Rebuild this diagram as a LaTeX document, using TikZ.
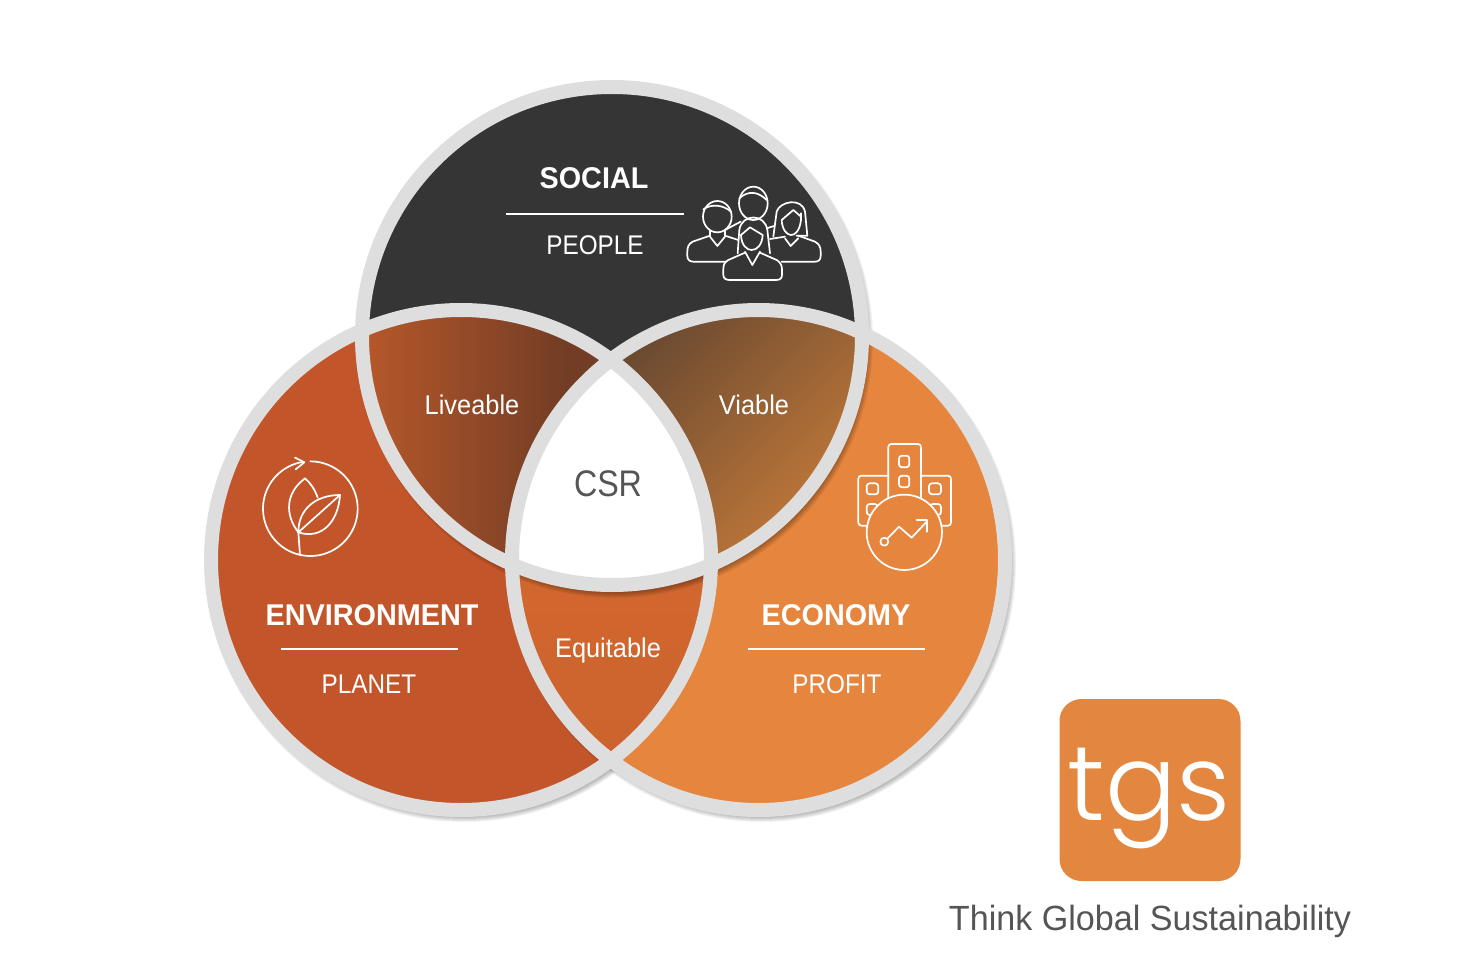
\documentclass[tikz,border=0pt]{standalone}
\usepackage{fontspec}
\setmainfont{Liberation Sans}
\newfontfamily\logofont{Poppins Light}
\newfontfamily\fcaps[FakeStretch=0.90]{Liberation Sans}
\newfontfamily\flow[FakeStretch=0.94]{Liberation Sans}
\newfontfamily\fhead[FakeStretch=0.96]{Liberation Sans Bold}
\newfontfamily\fcsr[FakeStretch=0.87]{Liberation Sans}
\newfontfamily\fthink[FakeStretch=0.975]{Liberation Sans}
\definecolor{band}{HTML}{DEDEDE}
\definecolor{dark}{HTML}{353535}
\definecolor{envc}{HTML}{C2562A}
\definecolor{ecoc}{HTML}{E5853E}
\definecolor{logoc}{HTML}{E28640}
\definecolor{greyt}{HTML}{555555}
\definecolor{livl}{HTML}{B5572A}
\definecolor{livr}{HTML}{733D25}
\definecolor{vibl}{HTML}{6B4A31}
\definecolor{vibr}{HTML}{C67B39}
\definecolor{equa}{HTML}{D2682F}
\definecolor{equb}{HTML}{CC622D}
\tikzset{
  lblcaps/.style={text=white,font=\fcaps\fontsize{27}{27}\selectfont,inner sep=0pt,anchor=center},
  lbllow/.style={text=white,font=\flow\fontsize{27}{27}\selectfont,inner sep=0pt,anchor=center},
  headt/.style={text=white,font=\fhead\fontsize{30}{30}\selectfont,inner sep=0pt,anchor=center},
  rulew/.style={draw=white,line width=1.6pt},
  ico/.style={draw=white,line width=1.7pt,line join=round,line cap=round},
  ringb/.style={draw=band,line width=14pt,fill=none},
  discL/.style={x radius=250,y radius=250},
  discR/.style={x radius=246.5,y radius=250},
  discT/.style={x radius=250,y radius=249},
}
\newcommand{\softshadow}[2]{%
  \foreach \k in {0,1,...,8}{
    \fill[black,opacity=0.05] ([shift={(3,4)}]#1) ellipse[x radius=#2+\k,y radius=250+\k];
  }}
\begin{document}
\begin{tikzpicture}[x=1pt,y=-1pt]
\useasboundingbox (0,0) rectangle (1476,960);
\fill[white] (0,0) rectangle (1476,960);
\coordinate (L) at (461,560);
\coordinate (R) at (758.5,560);
\coordinate (T) at (612,336);
% left disc with its shadow
\softshadow{L}{250}
\fill[envc] (L) ellipse[discL];
% right disc with its shadow
\softshadow{R}{246.5}
\fill[ecoc] (R) ellipse[discR];
% equitable
\begin{scope}
  \clip (L) ellipse[discL];
  \clip (R) ellipse[discR];
  \shade[top color=equa,bottom color=equb] (500,560) rectangle (720,770);
\end{scope}
% shadow and disc of the upper circle
\softshadow{T}{250}
\fill[dark] (T) ellipse[discT];
% liveable
\begin{scope}
  \clip (T) ellipse[discT];
  \clip (L) ellipse[discL];
  \fill[livr] (350,300) rectangle (630,600);
  \shade[left color=livl,right color=livr] (368,300) rectangle (565,600);
\end{scope}
% viable
\begin{scope}
  \clip (T) ellipse[discT];
  \clip (R) ellipse[discR];
  \shade[left color=vibl,right color=vibr,shading angle=45] (600,310) rectangle (860,570);
\end{scope}
% centre
\begin{scope}
  \clip (T) ellipse[discT];
  \clip (L) ellipse[discL];
  \clip (R) ellipse[discR];
  \fill[white] (490,340) rectangle (730,600);
\end{scope}
% rings
\draw[ringb] (L) ellipse[discL];
\draw[ringb] (R) ellipse[discR];
\draw[ringb] (T) ellipse[discT];
% rules
\coordinate (r1a) at (506,214); \coordinate (r1b) at (684,214);
\coordinate (r2a) at (281,649); \coordinate (r2b) at (458,649);
\coordinate (r3a) at (748,649); \coordinate (r3b) at (925,649);
\draw[rulew] (r1a) -- (r1b);
\draw[rulew] (r2a) -- (r2b);
\draw[rulew] (r3a) -- (r3b);
% text
\node[headt] (social) at (594,178) {SOCIAL};
\node[lblcaps] (people) at (595,245) {PEOPLE};
\node[headt] (env) at (372,615) {ENVIRONMENT};
\node[lblcaps] (planet) at (369,684) {PLANET};
\node[headt] (eco) at (836,615) {ECONOMY};
\node[lblcaps] (profit) at (837,684) {PROFIT};
\node[lbllow] (live) at (472,405) {Liveable};
\node[lbllow] (viab) at (754,405) {Viable};
\node[lbllow] (equi) at (608,651) {Equitable};
\node[text=greyt,inner sep=0pt,anchor=center,font=\fcsr\fontsize{37}{37}\selectfont] (csr) at (608,484) {CSR};
% people icon (coordinates of the 3x crop)
\begin{scope}[shift={(670,170)},x=0.33333pt,y=-0.33333pt]
  % back man
  \draw[ico] (250,100) ellipse[x radius=43,y radius=50];
  \draw[ico] (208,85) .. controls (235,60) and (265,65) .. (290,90);
  % left man
  \draw[ico] (142,140) ellipse[x radius=43,y radius=47];
  \draw[ico] (100,118) .. controls (125,100) and (160,105) .. (183,125);
  \draw[ico] (120,183) -- (120,200) -- (142,228) -- (165,200) -- (165,183);
  \draw[ico] (120,197) -- (68,215) .. controls (55,222) and (52,232) .. (52,245) -- (52,258) .. controls (52,270) and (60,275) .. (70,275) -- (170,275);
  \draw[ico] (165,197) -- (205,210);
  \draw[ico] (165,180) -- (212,155);
  % right woman
  \draw[ico] (310,200) -- (320,125) .. controls (328,95) and (395,80) .. (405,125) -- (412,197) -- (380,197);
  \draw[ico] (335,150) .. controls (338,205) and (385,215) .. (393,150) -- (393,130);
  \draw[ico] (335,150) -- (370,120) -- (393,140);
  \draw[ico] (345,205) -- (362,228) -- (385,205);
  \draw[ico] (385,197) -- (435,215) .. controls (448,222) and (452,232) .. (452,245) -- (452,258) .. controls (452,270) and (445,275) .. (435,275) -- (335,275);
  \draw[ico] (300,207) -- (345,200);
  \draw[ico] (290,175) -- (312,168);
  % front woman
  \draw[ico] (203,250) -- (208,180) .. controls (215,130) and (285,130) .. (292,180) -- (300,250);
  \draw[ico] (213,195) -- (240,172) -- (278,195);
  \draw[ico] (213,195) .. controls (215,255) and (275,255) .. (278,195);
  \draw[ico] (225,245) -- (247,285) -- (270,245);
  \draw[ico] (225,248) -- (175,270) .. controls (163,276) and (160,285) .. (160,298) -- (160,315) .. controls (160,325) and (168,330) .. (178,330) -- (318,330) .. controls (330,330) and (336,325) .. (336,315) -- (336,298) .. controls (336,285) and (330,276) .. (320,270) -- (270,248);
\end{scope}
% leaf icon
\begin{scope}[shift={(245,445)},x=0.33333pt,y=-0.33333pt]
  \draw[ico] plot[domain=-90:262,samples=90] ({196+142*cos(\x)},{191+142*sin(\x)});
  \draw[ico] (150,38) -- (178,52) -- (152,73);
  \draw[ico] (160,262) .. controls (120,210) and (120,145) .. (180,100) .. controls (198,115) and (210,135) .. (218,158);
  \draw[ico] (160,262) .. controls (160,190) and (215,150) .. (285,150) .. controls (280,230) and (230,285) .. (160,262);
  \draw[ico] (160,262) -- (285,150);
  \draw[ico] (160,262) -- (165,330);
\end{scope}
% economy icon
\begin{scope}[shift={(845,435)},x=0.33333pt,y=-0.33333pt]
  \draw[ico,rounded corners=3pt] (130,190) -- (130,27) -- (228,27) -- (228,190);
  \draw[ico,rounded corners=3pt] (130,122) -- (40,122) -- (40,272) -- (65,272);
  \draw[ico,rounded corners=3pt] (228,122) -- (318,122) -- (318,272) -- (290,272);
  \draw[ico,rounded corners=3pt] (162,62) rectangle (193,97);
  \draw[ico,rounded corners=3pt] (162,122) rectangle (193,157);
  \draw[ico,rounded corners=3pt] (65,145) rectangle (100,178);
  \draw[ico,rounded corners=3pt] (252,145) rectangle (288,178);
  \draw[ico,rounded corners=3pt] (65,207) rectangle (98,240);
  \draw[ico,rounded corners=3pt] (255,207) rectangle (288,240);
  \draw[ico,fill=ecoc] (178,292) circle[radius=113];
  \draw[ico] (118,320) circle[radius=12];
  \draw[ico] (128,310) -- (162,275) -- (200,308) -- (247,258);
  \draw[ico] (215,255) -- (247,255) -- (247,290);
\end{scope}
% logo
\fill[logoc,rounded corners=22pt] (1059.5,699) rectangle (1240.5,881);
\node[text=white,inner sep=0pt,anchor=base,font=\logofont\fontsize{106}{106}\selectfont] (tgs) at (1149,820) {tgs};
\node[text=greyt,inner sep=0pt,anchor=center,font=\fthink\fontsize{35}{35}\selectfont] (think) at (1150,921) {Think Global Sustainability};
\end{tikzpicture}
\end{document}
